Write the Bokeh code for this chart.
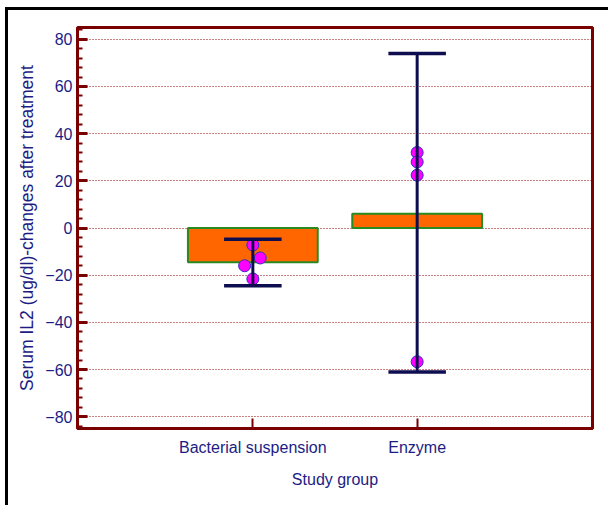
from bokeh.plotting import figure
from bokeh.models import Range1d, FixedTicker, SingleIntervalTicker
from bokeh.embed import file_html
from bokeh.resources import INLINE

# ---- data ----
categories = ["Bacterial suspension", "Enzyme"]
means = [-14.5, 6.0]
err_low = [-24.5, -61.0]
err_high = [-4.8, 74.0]
pt_group = [0, 0, 0, 0, 1, 1, 1, 1]
pt_values = [-7.2, -12.7, -16.0, -21.6, 32.0, 28.0, 22.4, -56.7]
pt_jitter = [0.0, 0.045, -0.05, 0.0, 0.0, 0.0, 0.0, 0.0]
y_ticks = [-80, -60, -40, -20, 0, 20, 40, 60, 80]

FONT = "Liberation Sans"
TXT = "#1c1c84"
AX = "#7a0000"
NAVY = "#0d0d4f"

xpos = [i + 1 for i in range(len(categories))]

p = figure(frame_width=515, frame_height=401, output_backend="svg", toolbar_location=None,
           x_range=Range1d(-0.067, 3.067), y_range=Range1d(-85, 85),
           min_border_left=69, min_border_top=17, min_border_right=16, min_border_bottom=77,
           background_fill_color="white", border_fill_color="white")
p.styles = {"margin-left": "5px", "margin-top": "7px",
            "border-left": "3px solid black", "border-top": "3px solid black"}

p.outline_line_color = AX
p.outline_line_width = 3
p.outline_line_alpha = 1

# bars
p.vbar(x=xpos, top=means, bottom=0, width=0.79, fill_color="#ff6600",
       line_color="#2a8a22", line_width=2)

# points
px = [xpos[g] + j for g, j in zip(pt_group, pt_jitter)]
p.scatter(x=px, y=pt_values, size=12, fill_color="#ff00ff", line_color="#3030c0", line_width=1)

# error bars
p.segment(x0=xpos, x1=xpos, y0=err_low, y1=err_high, line_color=NAVY, line_width=3)
cap = 0.175
p.segment(x0=[x - cap for x in xpos], x1=[x + cap for x in xpos], y0=err_low, y1=err_low,
          line_color=NAVY, line_width=3.5)
p.segment(x0=[x - cap for x in xpos], x1=[x + cap for x in xpos], y0=err_high, y1=err_high,
          line_color=NAVY, line_width=3.5)

# grid
p.xgrid.grid_line_color = None
p.ygrid.ticker = FixedTicker(ticks=y_ticks)
p.ygrid.grid_line_color = "#900000"
p.ygrid.grid_line_alpha = 1.0
p.ygrid.grid_line_dash = "1 2"
p.ygrid.grid_line_width = 1

# y axis
ya = p.yaxis[0]
ya.ticker = SingleIntervalTicker(interval=20, num_minor_ticks=5)
ya.axis_line_color = AX
ya.axis_line_width = 3
ya.major_tick_line_color = AX
ya.major_tick_line_width = 3
ya.major_tick_in = 10
ya.major_tick_out = 0
ya.minor_tick_line_color = AX
ya.minor_tick_line_width = 2
ya.minor_tick_in = 5
ya.minor_tick_out = 0
ya.major_label_text_font = FONT
ya.major_label_text_font_size = "16px"
ya.major_label_text_color = TXT
ya.major_label_standoff = 5
ya.axis_label = "Serum IL2 (ug/dl)-changes after treatment"
ya.axis_label_text_font = FONT
ya.axis_label_text_font_size = "17.5px"
ya.axis_label_text_font_style = "normal"
ya.axis_label_text_color = TXT
ya.axis_label_standoff = 5

# x axis
xa = p.xaxis[0]
xa.ticker = FixedTicker(ticks=xpos)
xa.major_label_overrides = {x: c for x, c in zip(xpos, categories)}
xa.axis_line_color = AX
xa.axis_line_width = 3
xa.major_tick_line_color = AX
xa.major_tick_line_width = 2
xa.major_tick_in = 10
xa.major_tick_out = 0
xa.minor_tick_line_color = None
xa.major_label_text_font = FONT
xa.major_label_text_font_size = "16px"
xa.major_label_text_color = TXT
xa.major_label_standoff = 10
xa.axis_label = "Study group"
xa.axis_label_text_font = FONT
xa.axis_label_text_font_size = "16px"
xa.axis_label_text_font_style = "normal"
xa.axis_label_text_color = TXT
xa.axis_label_standoff = 12

open("out.html", "w").write(file_html(p, INLINE))
